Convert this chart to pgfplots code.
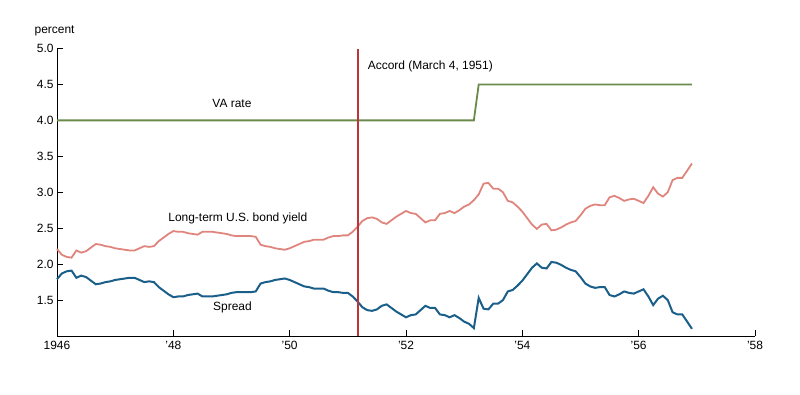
\documentclass[border=0pt]{standalone}
\usepackage{fontspec}
\setmainfont{Liberation Sans}
\usepackage{pgfplots}
\usepackage{pgfplotstable}
\pgfplotsset{compat=1.18}
\definecolor{vagreen}{HTML}{6A8A4A}
\definecolor{bondred}{HTML}{DF857D}
\definecolor{spreadblue}{HTML}{1A5E8A}
\definecolor{accordred}{HTML}{BE3538}

\pgfplotstableread{
m bond spread
0 2.21 1.79
1 2.13 1.87
2 2.10 1.90
3 2.09 1.91
4 2.19 1.81
5 2.16 1.84
6 2.18 1.82
7 2.23 1.77
8 2.28 1.72
9 2.27 1.73
10 2.25 1.75
11 2.24 1.76
12 2.22 1.78
13 2.21 1.79
14 2.20 1.80
15 2.19 1.81
16 2.19 1.81
17 2.22 1.78
18 2.25 1.75
19 2.24 1.76
20 2.25 1.75
21 2.32 1.68
22 2.37 1.63
23 2.42 1.58
24 2.46 1.54
25 2.45 1.55
26 2.45 1.55
27 2.43 1.57
28 2.42 1.58
29 2.41 1.59
30 2.45 1.55
31 2.45 1.55
32 2.45 1.55
33 2.44 1.56
34 2.43 1.57
35 2.42 1.58
36 2.40 1.60
37 2.39 1.61
38 2.39 1.61
39 2.39 1.61
40 2.39 1.61
41 2.38 1.62
42 2.27 1.73
43 2.25 1.75
44 2.24 1.76
45 2.22 1.78
46 2.21 1.79
47 2.20 1.80
48 2.22 1.78
49 2.25 1.75
50 2.28 1.72
51 2.31 1.69
52 2.32 1.68
53 2.34 1.66
54 2.34 1.66
55 2.34 1.66
56 2.37 1.63
57 2.39 1.61
58 2.39 1.61
59 2.40 1.60
60 2.40 1.60
61 2.45 1.55
62 2.52 1.48
63 2.60 1.40
64 2.64 1.36
65 2.65 1.35
66 2.63 1.37
67 2.58 1.42
68 2.56 1.44
69 2.61 1.39
70 2.66 1.34
71 2.70 1.30
72 2.74 1.26
73 2.71 1.29
74 2.70 1.30
75 2.64 1.36
76 2.58 1.42
77 2.61 1.39
78 2.61 1.39
79 2.70 1.30
80 2.71 1.29
81 2.74 1.26
82 2.71 1.29
83 2.75 1.25
84 2.80 1.20
85 2.83 1.17
86 2.89 1.11
87 2.97 1.53
88 3.12 1.38
89 3.13 1.37
90 3.05 1.45
91 3.05 1.45
92 3.00 1.50
93 2.88 1.62
94 2.86 1.64
95 2.80 1.70
96 2.73 1.77
97 2.64 1.86
98 2.55 1.95
99 2.49 2.01
100 2.55 1.95
101 2.56 1.94
102 2.47 2.03
103 2.48 2.02
104 2.51 1.99
105 2.55 1.95
106 2.58 1.92
107 2.60 1.90
108 2.68 1.82
109 2.77 1.73
110 2.81 1.69
111 2.83 1.67
112 2.82 1.68
113 2.82 1.68
114 2.93 1.57
115 2.95 1.55
116 2.92 1.58
117 2.88 1.62
118 2.90 1.60
119 2.91 1.59
120 2.88 1.62
121 2.85 1.65
122 2.95 1.55
123 3.07 1.43
124 2.98 1.52
125 2.94 1.56
126 3.00 1.50
127 3.17 1.33
128 3.20 1.30
129 3.20 1.30
130 3.30 1.20
131 3.40 1.10
}\rates

\begin{document}
\begin{tikzpicture}
\path[use as bounding box] (-57bp,-59bp) rectangle (743bp,336bp);
\begin{axis}[
  at={(0,0)}, anchor=south west,
  scale only axis, width=698bp, height=287.5bp,
  xmin=0, xmax=144, ymin=1, ymax=5,
  axis x line=bottom, axis y line=left,
  axis line style={-, line width=1bp, black},
  xtick={0,24,...,144},
  xticklabels={1946,'48,'50,'52,'54,'56,'58},
  ytick={1.5,2,...,5},
  tick align=inside, major tick length=6bp,
  tick style={line width=1bp, black},
  /pgf/number format/assume math mode=true,
  yticklabel style={/pgf/number format/fixed, /pgf/number format/fixed zerofill, /pgf/number format/precision=1},
  xticklabel style={yshift=-2bp},
  ticklabel style={font=\fontsize{12}{14}\selectfont},
  clip=false,
]
\addplot[vagreen, line width=1.8bp, sharp plot] coordinates {(0,4.0) (86,4.0) (87,4.5) (131,4.5)};
\addplot[bondred, line width=1.8bp] table[x=m, y=bond] {\rates};
\addplot[spreadblue, line width=2bp] table[x=m, y=spread] {\rates};
\addplot[accordred, line width=1.5bp] coordinates {(62.1,1) (62.1,5)};
\node[font=\fontsize{12}{14}\selectfont] at (axis cs:-0.5,5.24) {percent};
\node[font=\fontsize{12}{14}\selectfont] at (axis cs:36.1,4.23) {VA rate};
\node[font=\fontsize{12}{14}\selectfont] at (axis cs:37.3,2.63) {Long-term U.S. bond yield};
\node[font=\fontsize{12}{14}\selectfont] at (axis cs:36.2,1.40) {Spread};
\node[font=\fontsize{12}{14}\selectfont, anchor=west] at (axis cs:63.4,4.755) {Accord (March 4, 1951)};
\end{axis}
\end{tikzpicture}
\end{document}
